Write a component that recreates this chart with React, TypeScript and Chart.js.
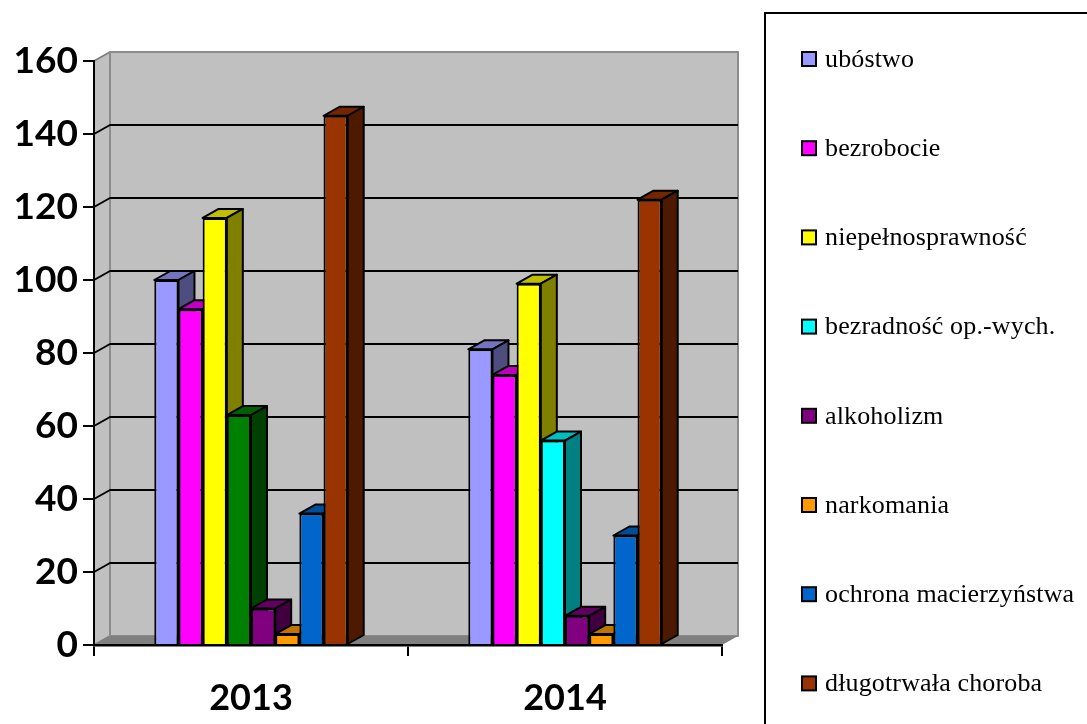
import React, { useEffect, useRef } from "react";
import { Chart, registerables } from "chart.js";

Chart.register(...registerables);

const years = ["2013", "2014"];
const names = [
  "ubóstwo",
  "bezrobocie",
  "niepełnosprawność",
  "bezradność op.-wych.",
  "alkoholizm",
  "narkomania",
  "ochrona macierzyństwa",
  "długotrwała choroba",
];
const ubostwo = [100, 81];
const bezrobocie = [92, 74];
const niepelnosprawnosc = [117, 99];
const bezradnosc = [63, 56];
const alkoholizm = [10, 8];
const narkomania = [3, 3];
const ochrona = [36, 30];
const choroba = [145, 122];
const seriesValues = [ubostwo, bezrobocie, niepelnosprawnosc, bezradnosc, alkoholizm, narkomania, ochrona, choroba];
const legendColors = ["#9999FF", "#FF00FF", "#FFFF00", "#00FFFF", "#800080", "#FF9900", "#0066CC", "#993300"];
const barColors: (string | string[])[] = [
  "#9999FF", "#FF00FF", "#FFFF00", ["#008000", "#00FFFF"], "#800080", "#FF9900", "#0066CC", "#993300",
];
const yTicks = [0, 20, 40, 60, 80, 100, 120, 140, 160];

const DX = 16;
const DY = 9;
const LW = 2;

function shade(hex: string, f: number) {
  const n = parseInt(hex.slice(1), 16);
  const r = Math.round(((n >> 16) & 255) * f);
  const g = Math.round(((n >> 8) & 255) * f);
  const b = Math.round((n & 255) * f);
  return `rgb(${r},${g},${b})`;
}

function poly(ctx: CanvasRenderingContext2D, pts: number[][], fill: string | null, stroke: string | null, lw = LW) {
  ctx.beginPath();
  pts.forEach((p, i) => (i ? ctx.lineTo(p[0], p[1]) : ctx.moveTo(p[0], p[1])));
  ctx.closePath();
  if (fill) {
    ctx.fillStyle = fill;
    ctx.fill();
  }
  if (stroke) {
    ctx.strokeStyle = stroke;
    ctx.lineWidth = lw;
    ctx.lineJoin = "round";
    ctx.stroke();
  }
}

const wallsPlugin = {
  id: "walls",
  // painted before the scales so the axis lines and tick marks stay on top of the walls
  beforeDraw(chart: any) {
    const { ctx, chartArea: a, scales } = chart;
    const y = scales.y;
    ctx.save();
    poly(ctx, [[a.left, a.top], [a.left + DX, a.top - DY], [a.left + DX, a.bottom - DY], [a.left, a.bottom]], "#C0C0C0", "#808080", 2);
    poly(ctx, [[a.left + DX, a.top - DY], [a.right + DX, a.top - DY], [a.right + DX, a.bottom - DY], [a.left + DX, a.bottom - DY]], "#C0C0C0", "#8C8C8C", 2);
    poly(ctx, [[a.left, a.bottom], [a.left + DX, a.bottom - DY], [a.right + DX, a.bottom - DY], [a.right, a.bottom]], "#808080", null);
    ctx.strokeStyle = "#000";
    ctx.lineWidth = LW;
    yTicks.forEach((v) => {
      if (v === 0 || v === 160) return;
      const py = y.getPixelForValue(v);
      ctx.beginPath();
      ctx.moveTo(a.left, py);
      ctx.lineTo(a.left + DX, py - DY);
      ctx.lineTo(a.right + DX, py - DY);
      ctx.stroke();
    });
    ctx.restore();
  },
  // the library's own back-to-front order would paint the first series last;
  // here the bars are painted left to right so each covers its neighbour's side face
  beforeDatasetDraw() {
    return false;
  },
  afterDatasetsDraw(chart: any) {
    const { ctx } = chart;
    chart.data.datasets.forEach((ds: any, di: number) => {
      const meta = chart.getDatasetMeta(di);
      ctx.save();
      meta.data.forEach((bar: any, i: number) => {
        const c = Array.isArray(ds.backgroundColor) ? ds.backgroundColor[i] : ds.backgroundColor;
        const l = bar.x - bar.width / 2;
        const r = bar.x + bar.width / 2;
        const t = bar.y;
        const b = bar.base;
        poly(ctx, [[l, t], [l + DX, t - DY], [r + DX, t - DY], [r, t]], shade(c, 0.75), "#000");
        poly(ctx, [[r, t], [r + DX, t - DY], [r + DX, b - DY], [r, b]], shade(c, 0.5), "#000");
      });
      ctx.restore();
      meta.controller.draw();
    });
  },
  afterDraw(chart: any) {
    const { ctx } = chart;
    ctx.save();
    ctx.strokeStyle = "#000";
    ctx.lineWidth = 2;
    ctx.strokeRect(765, 13, 400, 800);
    ctx.font = '26px "Liberation Serif"';
    (ctx as any).letterSpacing = "0.15px";
    ctx.textBaseline = "middle";
    names.forEach((n, i) => {
      const cy = 59 + i * 89.2;
      ctx.fillStyle = legendColors[i];
      ctx.lineWidth = 2;
      ctx.fillRect(802, cy - 7, 14, 14);
      ctx.strokeRect(802, cy - 7, 14, 14);
      ctx.fillStyle = "#000";
      ctx.fillText(n, 825, cy + 1);
    });
    ctx.restore();
  },
};

export default function App() {
  const ref = useRef<HTMLCanvasElement>(null);
  useEffect(() => {
    document.body.style.margin = "0";
    const chart = new Chart(ref.current as HTMLCanvasElement, {
      type: "bar",
      data: {
        labels: years,
        datasets: names.map((n, i) => ({
          label: n,
          data: seriesValues[i],
          backgroundColor: barColors[i],
          borderColor: "#000",
          borderWidth: LW,
          categoryPercentage: 0.616,
          barPercentage: 1,
        })),
      },
      options: {
        animation: false,
        responsive: false,
        devicePixelRatio: 1,
        layout: { padding: { top: 61, right: 365, left: 0, bottom: 0 } },
        plugins: { legend: { display: false }, tooltip: { enabled: false } },
        scales: {
          x: {
            afterFit: (s: any) => { s.height = 79; },
            grid: { display: true, drawOnChartArea: false, color: "#000", lineWidth: LW, tickLength: 11 },
            border: { display: true, color: "#000", width: 2.5 },
            ticks: { color: "#000", padding: 21, font: { family: "Lato", weight: "bold", size: 36 } },
          },
          y: {
            min: 0,
            max: 160,
            afterFit: (s: any) => { s.width = 94; },
            grid: { display: true, drawOnChartArea: false, color: "#000", lineWidth: LW, tickLength: 11 },
            border: { display: true, color: "#000", width: 2 },
            ticks: { stepSize: 20, color: "#000", padding: 5, font: { family: "Lato", weight: "bold", size: 37 } },
          },
        },
      },
      plugins: [wallsPlugin],
    } as any);
    return () => chart.destroy();
  }, []);
  return (
    <div style={{ position: "absolute", left: 0, top: 0, width: 1087, height: 724 }}>
      <canvas ref={ref} width={1087} height={724} style={{ display: "block", width: 1087, height: 724 }} />
    </div>
  );
}
